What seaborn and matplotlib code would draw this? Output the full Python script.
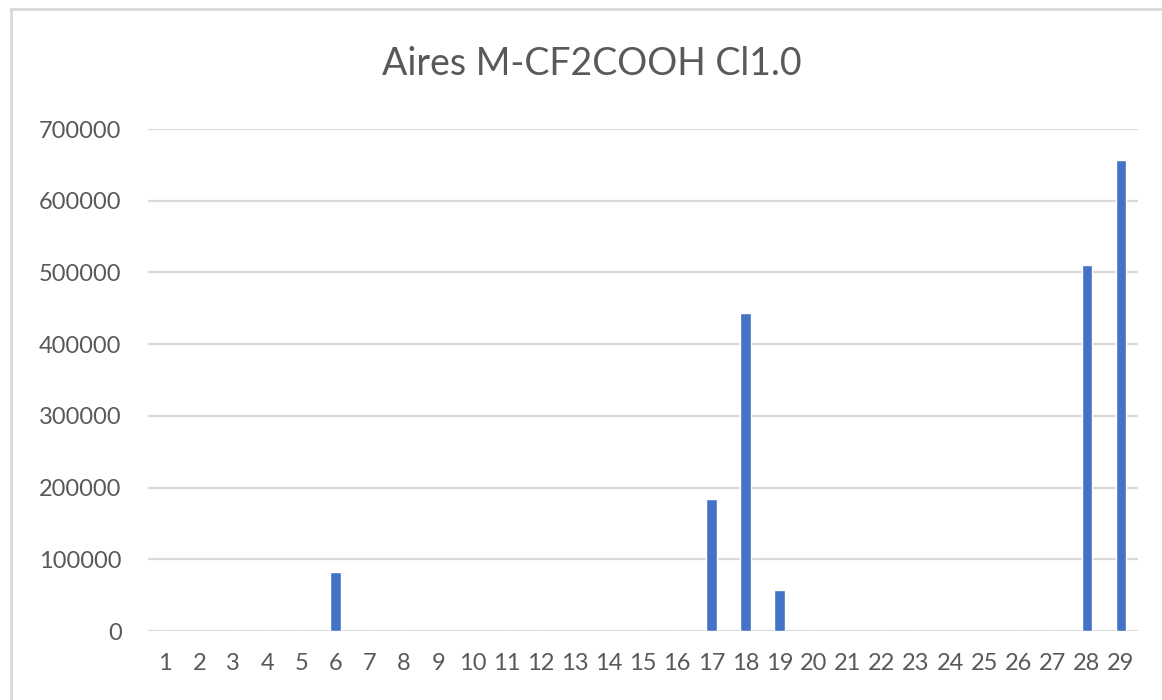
import matplotlib
matplotlib.use("Agg")
import matplotlib.pyplot as plt
import seaborn as sns
import pandas as pd
from matplotlib.patches import Rectangle

sns.set_theme(style="white")
plt.rcParams['font.family'] = ['Lato', 'DejaVu Sans']

# data
positions = [str(i) for i in range(1, 30)]
aires = [0, 0, 0, 0, 0, 82000, 0, 0, 0, 0,
         0, 0, 0, 0, 0, 0, 184000, 444000, 57000, 0,
         0, 0, 0, 0, 0, 0, 0, 510000, 657000]
yticks = [0, 100000, 200000, 300000, 400000, 500000, 600000, 700000]

df = pd.DataFrame({'pos': positions, 'aire': aires})

text_col = '#595959'
grid_col = '#D9D9D9'

fig = plt.figure(figsize=(11.62, 7), dpi=100)
ax = fig.add_axes([148/1162, 1 - 631/700, (1138-148)/1162, (631-129)/700])

sns.barplot(data=df, x='pos', y='aire', order=positions, color='#4472C4',
            saturation=1, width=0.31, ax=ax, zorder=3)

ax.set_xlim(-0.5, len(positions) - 0.5)
ax.set_ylim(0, 700000)
ax.set_yticks(yticks)
ax.set_yticklabels([str(v) for v in yticks])
ax.yaxis.grid(True, color=grid_col, linewidth=1.6, zorder=0)
ax.set_axisbelow(True)
for s in ax.spines.values():
    s.set_visible(False)
ax.tick_params(axis='both', length=0, labelsize=17, colors=text_col)
ax.tick_params(axis='y', pad=19)
ax.tick_params(axis='x', pad=16)
ax.set_xlabel('')
ax.set_ylabel('')

fig.text(592/1162, 1 - 64/700, 'Aires M-CF2COOH Cl1.0', ha='center', va='center',
         fontsize=27, color=text_col)

# chart area border
fig.patches.append(Rectangle((11/1162, -0.05), 1.1, 1 - 9/700 + 0.05,
                             transform=fig.transFigure, fill=False,
                             edgecolor=grid_col, linewidth=2))

fig.savefig('out.png', dpi=100, facecolor='white')
